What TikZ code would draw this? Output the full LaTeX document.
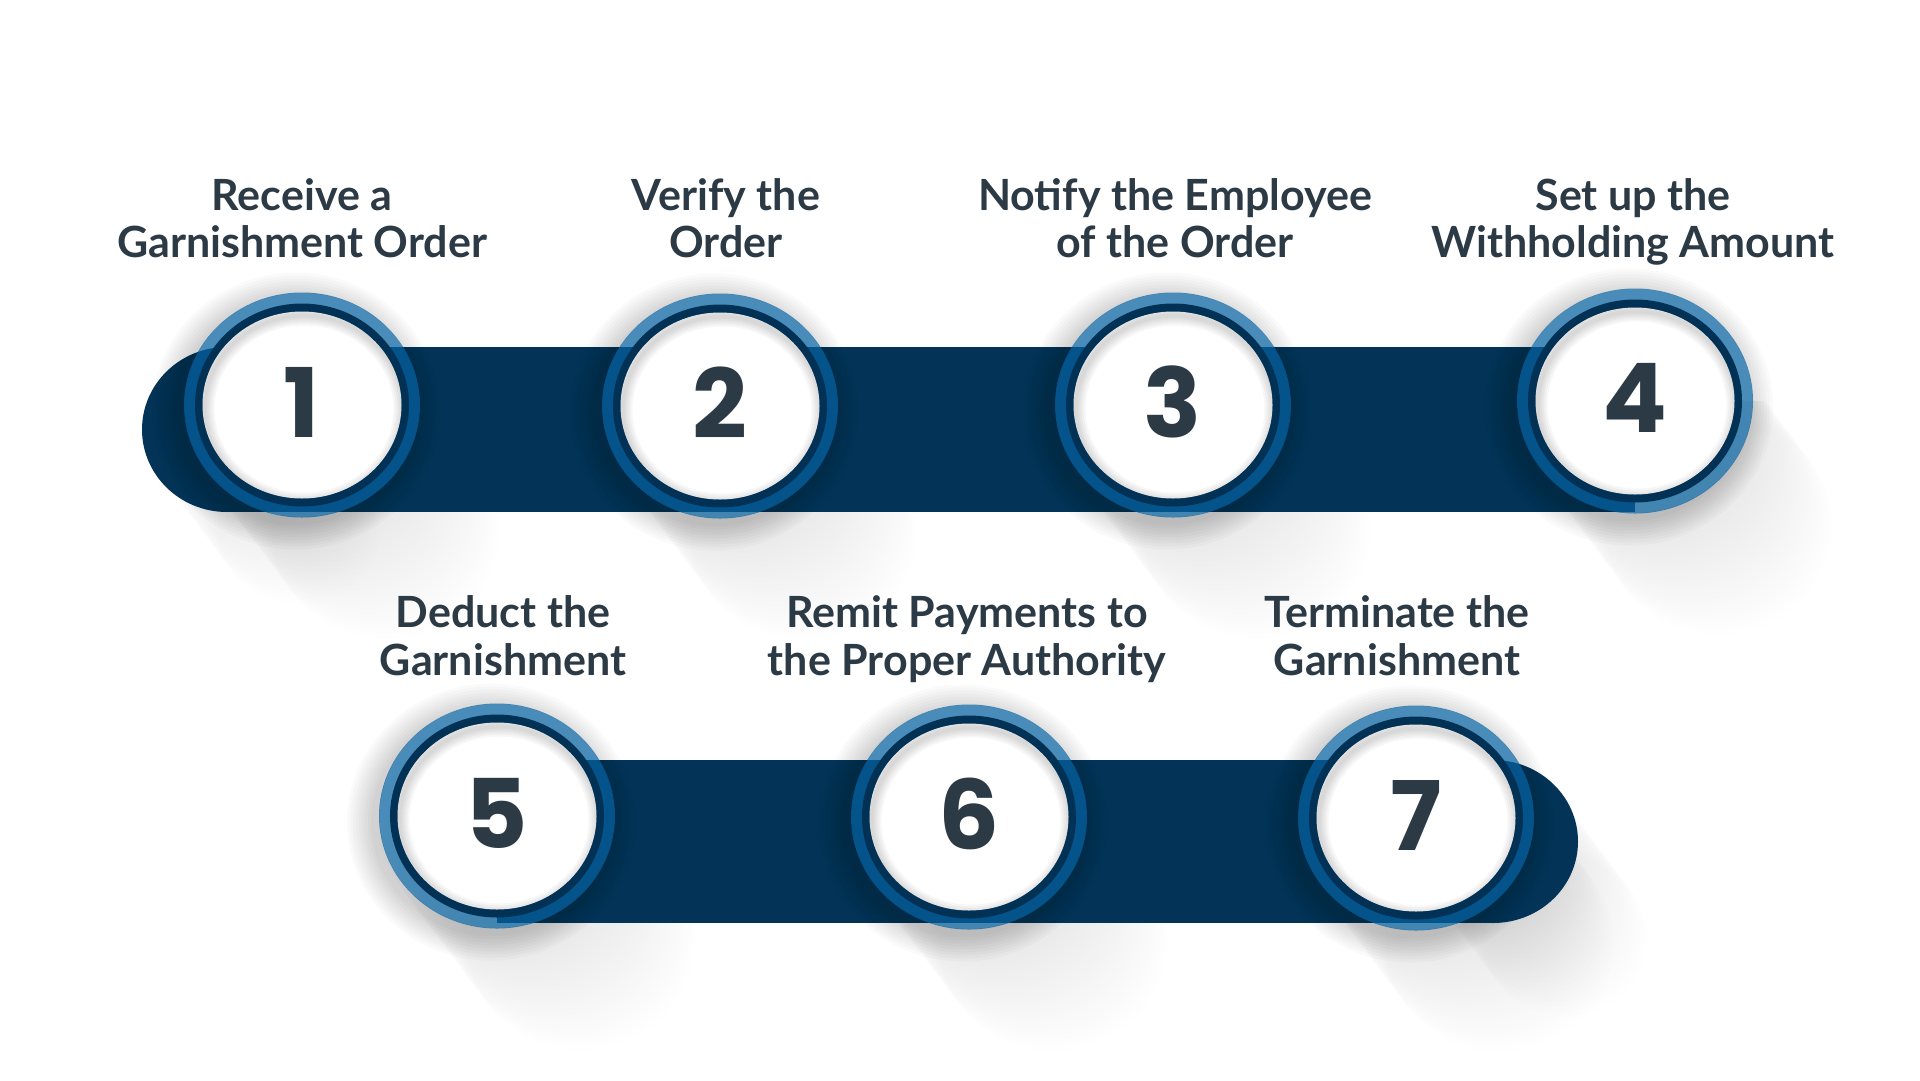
\documentclass[tikz,border=0pt]{standalone}
\usepackage{fontspec}
\newfontfamily\lblfont{Lato}
\newfontfamily\numfont{Poppins}
\definecolor{navy}{RGB}{3,52,87}
\definecolor{ringblue}{RGB}{5,96,158}
\definecolor{ringnavy}{RGB}{1,50,86}
\definecolor{txt}{RGB}{44,58,69}
\begin{document}
\begin{tikzpicture}[x=1pt,y=-1pt,
  lbl/.style={anchor=base, inner sep=0pt, font=\lblfont\bfseries\fontsize{43}{48}\selectfont, text=txt},
  num/.style={inner sep=0pt, font=\numfont\bfseries\fontsize{96}{96}\selectfont, text=txt},
  shd/.style={fill=black, opacity=0.0055},
  halo/.style={fill=black, opacity=0.02},
]
\useasboundingbox[fill=white] (0,0) rectangle (1920,1080);

% long shadows of the bar end caps (behind the bars)
\foreach \cx/\cy in {227/429.5, 1493/841.5}{
  \foreach \s in {6,12,...,120}{
    \fill[shd] (\cx+\s*0.6,\cy+\s*0.8) ellipse[x radius=82pt, y radius=79pt];
  }
}
% long shadows of the circles (behind the bars)
\foreach \cx/\cy in {302/405, 720/406, 1173/405, 1635/401, 497/816, 969/817, 1416/818}{
  \begin{scope}
    \clip (\cx-250,\cy) rectangle (\cx+450,\cy+450);
    \foreach \s in {6,12,...,156}{
      \fill[shd] (\cx-10+\s*0.6,\cy+\s*0.8) ellipse[x radius=114pt, y radius=109pt];
    }
  \end{scope}
}

% bars
\fill[navy] (227,347) rectangle (1635,512);
\fill[navy] (227,429.5) ellipse[x radius=85pt, y radius=82.5pt];
\fill[navy] (497,760) rectangle (1493,923);
\fill[navy] (1493,841.5) ellipse[x radius=85pt, y radius=81.5pt];

% circles
\foreach \i/\cx/\cy in {1/302/405, 2/720/406, 3/1173/405, 4/1635/401, 5/497/816, 6/969/817, 7/1416/818}{
  % soft halo shadow round the circle, outside it only
  \begin{scope}[even odd rule]
    \clip (\cx-300,\cy-300) rectangle (\cx+300,\cy+300)
      (\cx,\cy) ellipse[x radius=117.5pt, y radius=112pt];
    \foreach \k in {2,5,...,26}{
      \fill[halo] (\cx-6,\cy+6) ellipse[x radius=118pt+\k pt, y radius=112.5pt+\k pt];
    }
  \end{scope}
  \fill[ringblue, opacity=0.72] (\cx,\cy) ellipse[x radius=118pt, y radius=112.5pt];
  \fill[ringnavy] (\cx,\cy) ellipse[x radius=107pt, y radius=101.5pt];
  \fill[white] (\cx,\cy) ellipse[x radius=99.5pt, y radius=93.5pt];
  \begin{scope}
    \clip (\cx,\cy) ellipse[x radius=99.5pt, y radius=93.5pt];
    \foreach \w in {4,8,12,16,20}{
      \draw[black, opacity=0.03, line width=\w pt] (\cx+2,\cy+4) ellipse[x radius=99.5pt, y radius=93.5pt];
    }
  \end{scope}
  \node[num] (n\i) at (\cx,\cy-3) {\i};
}

% labels
\node[lbl] (t1a) at (302,210) {Receive a};
\node[lbl] (t1b) at (302,257) {Garnishment Order};
\node[lbl] (t2a) at (726,210) {Verify the};
\node[lbl] (t2b) at (726,257) {Order};
\node[lbl] (t3a) at (1175,210) {Notify the Employee};
\node[lbl] (t3b) at (1175,257) {of the Order};
\node[lbl] (t4a) at (1633,210) {Set up the};
\node[lbl] (t4b) at (1633,257) {Withholding Amount};
\node[lbl] (t5a) at (503,627) {Deduct the};
\node[lbl] (t5b) at (503,675) {Garnishment};
\node[lbl] (t6a) at (967,627) {Remit Payments to};
\node[lbl] (t6b) at (967,675) {the Proper Authority};
\node[lbl] (t7a) at (1397,627) {Terminate the};
\node[lbl] (t7b) at (1397,675) {Garnishment};
\end{tikzpicture}
\end{document}
